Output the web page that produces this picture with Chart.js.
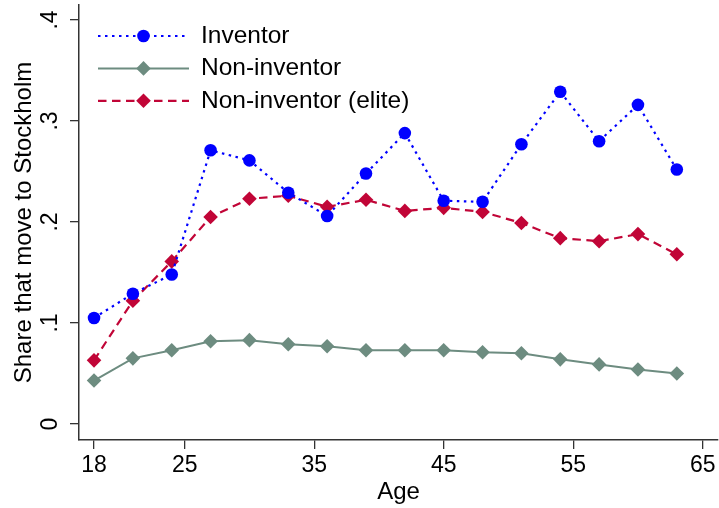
<!DOCTYPE html>
<html>
<head>
<meta charset="utf-8">
<title>Share that move to Stockholm</title>
<script src="https://cdn.jsdelivr.net/npm/chart.js@4.4.1/dist/chart.umd.min.js"></script>
<style>
  html, body { margin: 0; padding: 0; background: #fff; }
  #wrap { width: 719px; height: 508px; }
</style>
</head>
<body>
<div id="wrap"><canvas id="moves" width="719" height="508"></canvas></div>
<script>
const ages = [18, 21, 24, 27, 30, 33, 36, 39, 42, 45, 48, 51, 54, 57, 60, 63];
const inventor = [0.105, 0.129, 0.148, 0.271, 0.261, 0.229, 0.206, 0.248,
                  0.288, 0.221, 0.220, 0.277, 0.329, 0.280, 0.316, 0.252];
const nonInventor = [0.043, 0.065, 0.073, 0.082, 0.083, 0.079, 0.077, 0.073,
                     0.073, 0.073, 0.071, 0.070, 0.064, 0.059, 0.054, 0.050];
const nonInventorElite = [0.063, 0.122, 0.161, 0.205, 0.223, 0.226, 0.215, 0.222,
                          0.211, 0.214, 0.210, 0.199, 0.184, 0.181, 0.188, 0.168];
const seriesLabels = ['Inventor', 'Non-inventor', 'Non-inventor (elite)'];
const xTicks = [18, 25, 35, 45, 55, 65];
const yTicks = [0, 0.1, 0.2, 0.3, 0.4];
const yTickLabels = ['0', '.1', '.2', '.3', '.4'];

const BLUE = '#0000ff';
const SAGE = '#6d8c80';
const CRANBERRY = '#c10537';
const AXIS = '#333333';

Chart.defaults.font.family = '"Liberation Sans", Arial, Helvetica, sans-serif';
Chart.defaults.color = '#000';

const toPoints = values => ages.map((age, i) => ({ x: age, y: values[i] }));

// legend drawn as a line sample with the marker in the middle, like the plot lines
const lineLegend = {
  id: 'lineLegend',
  afterDraw(chart, args, opts) {
    const ctx = chart.ctx;
    chart.data.datasets.forEach((ds, i) => {
      const y = opts.top + i * opts.rowHeight;
      ctx.save();
      ctx.strokeStyle = ds.borderColor;
      ctx.lineWidth = ds.borderWidth;
      ctx.setLineDash(ds.borderDash || []);
      ctx.beginPath();
      ctx.moveTo(opts.left, y);
      ctx.lineTo(opts.left + opts.sampleWidth, y);
      ctx.stroke();
      ctx.setLineDash([]);
      ctx.fillStyle = ds.pointBackgroundColor;
      ctx.strokeStyle = ds.pointBorderColor;
      Chart.helpers.drawPoint(ctx, {
        pointStyle: ds.pointStyle,
        radius: ds.pointRadius,
        borderWidth: ds.pointBorderWidth,
        rotation: 0
      }, opts.left + opts.sampleWidth / 2, y);
      ctx.fillStyle = '#000';
      ctx.font = opts.font;
      ctx.textBaseline = 'middle';
      ctx.textAlign = 'left';
      ctx.fillText(ds.label, opts.textLeft, y);
      ctx.restore();
    });
  }
};

new Chart(document.getElementById('moves'), {
  type: 'line',
  data: {
    datasets: [
      {
        label: seriesLabels[0],
        data: toPoints(inventor),
        borderColor: BLUE,
        borderWidth: 2.2,
        borderDash: [2.5, 4.5],
        pointStyle: 'circle',
        pointRadius: 6.3,
        pointBackgroundColor: BLUE,
        pointBorderColor: BLUE,
        pointBorderWidth: 0
      },
      {
        label: seriesLabels[1],
        data: toPoints(nonInventor),
        borderColor: SAGE,
        borderWidth: 2,
        pointStyle: 'rectRot',
        pointRadius: 7.3,
        pointBackgroundColor: SAGE,
        pointBorderColor: SAGE,
        pointBorderWidth: 0
      },
      {
        label: seriesLabels[2],
        data: toPoints(nonInventorElite),
        borderColor: CRANBERRY,
        borderWidth: 2.2,
        borderDash: [8.5, 5.5],
        pointStyle: 'rectRot',
        pointRadius: 7.3,
        pointBackgroundColor: CRANBERRY,
        pointBorderColor: CRANBERRY,
        pointBorderWidth: 0
      }
    ]
  },
  options: {
    responsive: false,
    animation: false,
    devicePixelRatio: 1,
    layout: { autoPadding: false, padding: { top: 5, right: 1, left: 0, bottom: 0 } },
    elements: { line: { tension: 0 } },
    plugins: {
      legend: { display: false },
      tooltip: { enabled: false },
      lineLegend: {
        left: 98,
        sampleWidth: 91,
        textLeft: 201,
        top: 36,
        rowHeight: 32.4,
        font: '24.5px "Liberation Sans", Arial, sans-serif'
      }
    },
    scales: {
      x: {
        type: 'linear',
        min: 16.84,
        max: 66.18,
        afterBuildTicks: scale => { scale.ticks = xTicks.map(v => ({ value: v })); },
        afterFit: scale => {
          scale.height = 68;
          scale.paddingLeft = 0;
          scale.paddingRight = 0;
        },
        grid: { drawOnChartArea: false, drawTicks: true, tickLength: 9, color: AXIS, lineWidth: 1.3 },
        border: { display: true, color: AXIS, width: 1.5 },
        ticks: {
          font: { size: 23 },
          padding: 3,
          maxRotation: 0,
          autoSkip: false,
          callback: value => String(value)
        },
        title: {
          display: true,
          text: 'Age',
          font: { size: 24 },
          padding: { top: 0, bottom: 1.2 }
        }
      },
      y: {
        type: 'linear',
        min: -0.01584,
        max: 0.41485,
        afterBuildTicks: scale => { scale.ticks = yTicks.map(v => ({ value: v })); },
        afterFit: scale => {
          scale.width = 79;
          scale.paddingTop = 0;
          scale.paddingBottom = 0;
        },
        grid: { drawOnChartArea: false, drawTicks: true, tickLength: 9, color: AXIS, lineWidth: 1.3 },
        border: { display: true, color: AXIS, width: 1.5 },
        ticks: {
          font: { size: 23 },
          minRotation: 90,
          maxRotation: 90,
          crossAlign: 'center',
          padding: 9.4,
          autoSkip: false,
          callback: (value, i) => yTickLabels[i]
        },
        title: {
          display: true,
          text: 'Share that move to Stockholm',
          font: { size: 24 },
          padding: { top: 9.6, bottom: 0 }
        }
      }
    }
  },
  plugins: [lineLegend]
});
</script>
</body>
</html>
